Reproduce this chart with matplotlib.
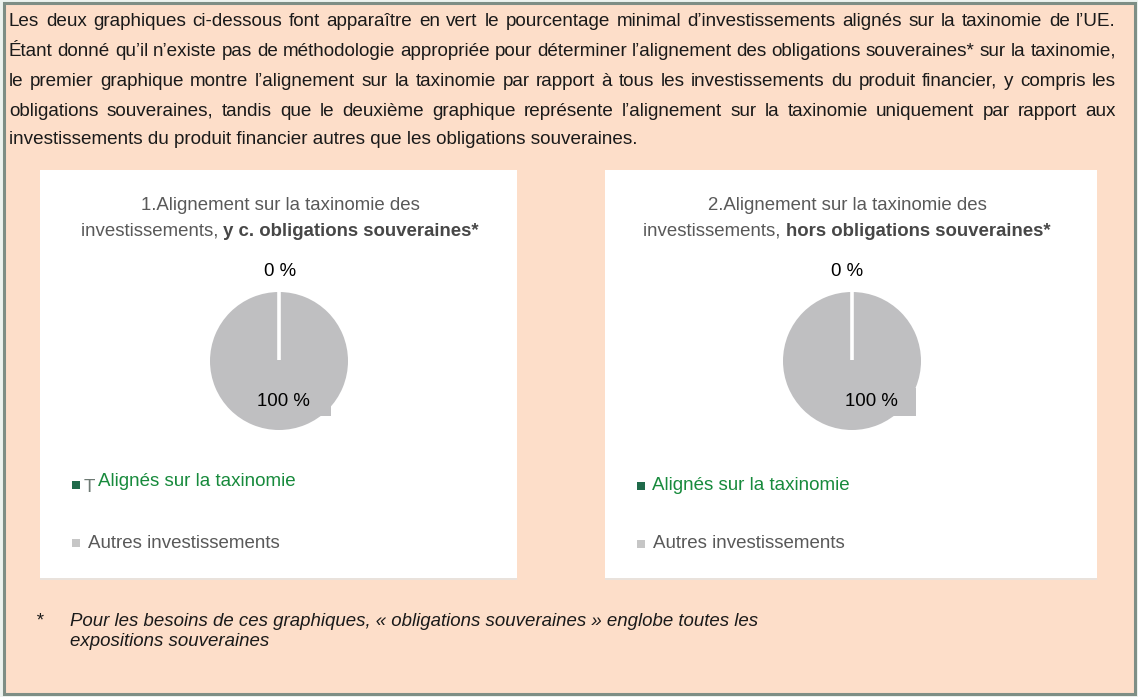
import matplotlib
matplotlib.use("Agg")
import numpy as np
import matplotlib.pyplot as plt
from matplotlib.patches import Rectangle

# ---------------- data ----------------
intro_lines = [
    "Les deux graphiques ci-dessous font apparaître en vert le pourcentage minimal d’investissements alignés sur la taxinomie de l’UE.",
    "Étant donné qu’il n’existe pas de méthodologie appropriée pour déterminer l’alignement des obligations souveraines* sur la taxinomie,",
    "le premier graphique montre l’alignement sur la taxinomie par rapport à tous les investissements du produit financier, y compris les",
    "obligations souveraines, tandis que le deuxième graphique représente l’alignement sur la taxinomie uniquement par rapport aux",
    "investissements du produit financier autres que les obligations souveraines.",
]
chart_title_line1 = ["1.Alignement sur la taxinomie des", "2.Alignement sur la taxinomie des"]
chart_title_line2_regular = ["investissements, ", "investissements, "]
chart_title_line2_bold = ["y c. obligations souveraines*", "hors obligations souveraines*"]
aligned_pct = [0, 0]
other_pct = [100, 100]
legend_labels = ["Alignés sur la taxinomie", "Autres investissements"]
footnote_lines = [
    "Pour les besoins de ces graphiques, « obligations souveraines » englobe toutes les",
    "expositions souveraines",
]

# ---------------- style ----------------
W, H = 1138, 697
FONT = "Liberation Sans"
PEACH = "#FDDEC9"
PIE_GRAY = "#BFBFC1"
GREEN_TXT = "#178A3C"
GREEN_SQ = "#1F6A4A"
GRAY_TXT = "#595959"
GRAY_SQ = "#C6C6C6"

fig = plt.figure(figsize=(W / 100, H / 100), dpi=100)
fig.patch.set_facecolor("#EDF3EF")
ax = fig.add_axes([0, 0, 1, 1])
renderer = fig.canvas.get_renderer()


def width_of(s, **kw):
    t = ax.text(0, 0, s, family=FONT, **kw)
    w = t.get_window_extent(renderer).width
    t.remove()
    return w


# ---------------- panels geometry ----------------
panels = [
    dict(x0=40, x1=517, cx=280, pcx=279, box=(238, 383, 331, 416), lbl100=283,
         sq=76, t_leg1=98, t_leg2=88, leg1_y=481, leg2_y=543, stray_T=True),
    dict(x0=605, x1=1097, cx=847, pcx=852, box=(826, 388, 916, 416), lbl100=871,
         sq=641, t_leg1=652, t_leg2=653, leg1_y=486, leg2_y=544, stray_T=False),
]
py0, py1 = 170, 578
pcy, pr = 361, 69

# pies (drawn on the pixel-space axes; y axis is inverted, so start at -90 = up)
for i, p in enumerate(panels):
    ax.pie([aligned_pct[i], other_pct[i]], colors=[GREEN_SQ, PIE_GRAY], startangle=-90,
           counterclock=True, radius=pr, center=(p["pcx"], pcy),
           wedgeprops=dict(edgecolor="none", zorder=2))
    total = aligned_pct[i] + other_pct[i]
    ang = np.deg2rad(-90 + 360 * aligned_pct[i] / total)
    ax.plot([p["pcx"], p["pcx"] + pr * np.cos(ang)], [pcy - 1, pcy + pr * np.sin(ang)],
            color="white", lw=2.6, solid_capstyle="butt", zorder=2.5)

ax.set_xlim(0, W)
ax.set_ylim(H, 0)
ax.set_aspect("auto")
ax.set_position([0, 0, 1, 1])
ax.axis("off")

# outer frame
ax.add_patch(Rectangle((4, 3), 1131, 691, facecolor=PEACH, edgecolor="#7E8E85", lw=2.2, zorder=0))

# ---------------- intro paragraph (justified) ----------------
left, right = 9, 1116
para_w = right - left
fs = 11 * (637 - left) / width_of(intro_lines[-1], fontsize=11)
line_y = [22, 51, 81, 111, 140]
for i, line in enumerate(intro_lines):
    y = line_y[i]
    if i == len(intro_lines) - 1:
        ax.text(left, y, line, family=FONT, fontsize=fs, color="#1A1A1A", ha="left", va="center")
        continue
    words = line.split(" ")
    ws = [width_of(w, fontsize=fs) for w in words]
    gap = (para_w - sum(ws)) / (len(words) - 1)
    x = left
    for w, wd in zip(words, ws):
        ax.text(x, y, w, family=FONT, fontsize=fs, color="#1A1A1A", ha="left", va="center")
        x += wd + gap

title_fs = 11 * 278 / width_of(chart_title_line1[0], fontsize=11)
leg_fs = 11 * 197 / width_of(legend_labels[0], fontsize=11)

for i, p in enumerate(panels):
    # shadow + white card
    ax.add_patch(Rectangle((p["x0"], py0 + 2), p["x1"] - p["x0"], py1 - py0,
                           facecolor="#E9E2DC", edgecolor="none", zorder=1))
    ax.add_patch(Rectangle((p["x0"], py0), p["x1"] - p["x0"], py1 - py0,
                           facecolor="white", edgecolor="none", zorder=1.2))
    # title
    ax.text(p["cx"], 205, chart_title_line1[i], family=FONT, fontsize=title_fs,
            color=GRAY_TXT, ha="center", va="center", zorder=3)
    wr = width_of(chart_title_line2_regular[i], fontsize=title_fs)
    wb = width_of(chart_title_line2_bold[i], fontsize=title_fs, fontweight="bold")
    sx = p["cx"] - (wr + wb) / 2
    ax.text(sx, 231, chart_title_line2_regular[i], family=FONT, fontsize=title_fs,
            color=GRAY_TXT, ha="left", va="center", zorder=3)
    ax.text(sx + wr, 231, chart_title_line2_bold[i], family=FONT, fontsize=title_fs,
            fontweight="bold", color="#474747", ha="left", va="center", zorder=3)

    # labels
    ax.text(p["cx"], 271, f"{aligned_pct[i]} %", family=FONT, fontsize=title_fs,
            color="black", ha="center", va="center", zorder=3)
    bx0, by0, bx1, by1 = p["box"]
    ax.add_patch(Rectangle((bx0, by0), bx1 - bx0, by1 - by0, facecolor=PIE_GRAY,
                           edgecolor="none", zorder=4))
    ax.text(p["lbl100"], 402, f"{other_pct[i]} %", family=FONT, fontsize=title_fs,
            color="black", ha="center", va="center", zorder=5)

    # legend
    ax.add_patch(Rectangle((p["sq"] - 4, p["leg1_y"] + (4 if p["stray_T"] else 0) - 4), 8, 8,
                           facecolor=GREEN_SQ, edgecolor="none", zorder=3))
    if p["stray_T"]:
        ax.text(p["sq"] + 8, p["leg1_y"] + 7, "T", family=FONT, fontsize=leg_fs,
                color="#6E7A74", ha="left", va="center", zorder=3)
    ax.text(p["t_leg1"], p["leg1_y"], legend_labels[0], family=FONT, fontsize=leg_fs,
            color=GREEN_TXT, ha="left", va="center", zorder=3)
    ax.add_patch(Rectangle((p["sq"] - 4, p["leg2_y"] - 4), 8, 8,
                           facecolor=GRAY_SQ, edgecolor="none", zorder=3))
    ax.text(p["t_leg2"], p["leg2_y"], legend_labels[1], family=FONT, fontsize=leg_fs,
            color=GRAY_TXT, ha="left", va="center", zorder=3)

# ---------------- footnote ----------------
fn_fs = 11 * (757 - 70) / width_of(footnote_lines[0], fontsize=11, style="italic")
ax.text(36, 621, "*", family=FONT, fontsize=fn_fs, style="italic", color="#1A1A1A",
        ha="left", va="center")
for j, line in enumerate(footnote_lines):
    ax.text(70, 621 + 21 * j, line, family=FONT, fontsize=fn_fs, style="italic",
            color="#1A1A1A", ha="left", va="center")

fig.savefig("out.png", dpi=100, facecolor=fig.get_facecolor())
